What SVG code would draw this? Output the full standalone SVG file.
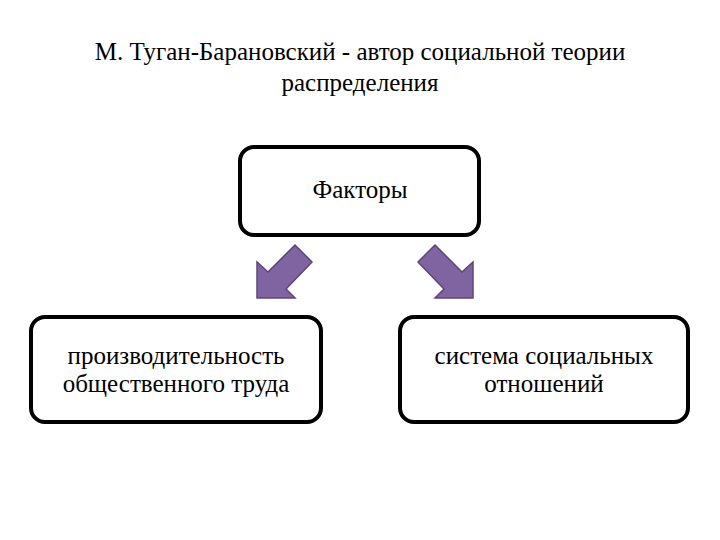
<svg xmlns="http://www.w3.org/2000/svg" width="720" height="540" viewBox="0 0 720 540">
<style>
svg g text, svg text{font-family:"Liberation Serif","Times New Roman",serif !important;font-size:25px !important;fill:#000;text-anchor:middle}
.box{fill:#fff;stroke:#000;stroke-width:4}
.arr{fill:#8064a2;stroke:#5c4776;stroke-width:1.5}
</style>
<rect width="720" height="540" fill="#fff"/>
<g id="title">
<text style="font-family:'Liberation Serif',serif !important" x="360" y="60">М. Туган-Барановский - автор социальной теории</text>
<text style="font-family:'Liberation Serif',serif !important" x="360" y="91">распределения</text>
</g>
<g id="factors">
<rect class="box" x="240" y="147" width="239" height="88" rx="14"/>
<text style="font-family:'Liberation Serif',serif !important" x="360" y="198">Факторы</text>
</g>
<g id="productivity">
<rect class="box" x="31" y="317" width="290" height="105" rx="14"/>
<text style="font-family:'Liberation Serif',serif !important" x="176" y="364">производительность</text>
<text style="font-family:'Liberation Serif',serif !important" x="176" y="392">общественного труда</text>
</g>
<g id="social">
<rect class="box" x="400" y="317" width="288" height="105" rx="14"/>
<text style="font-family:'Liberation Serif',serif !important" x="544" y="364">система социальных</text>
<text style="font-family:'Liberation Serif',serif !important" x="544" y="392">отношений</text>
</g>
<g id="connectors">
<polygon class="arr" points="295,245 312,262 286,289 295,298 257,298 257,262 268,272"/>
<polygon class="arr" points="435,245 418,262 444,289 435,298 473,298 473,262 462,272"/>
</g>
</svg>
